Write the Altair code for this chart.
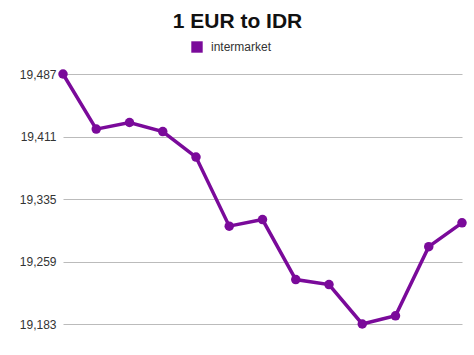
import altair as alt
import pandas as pd

idx = list(range(13))
values = [19487, 19420, 19428, 19417, 19386, 19302, 19310, 19237, 19231, 19183, 19193, 19277, 19306]
series = ["intermarket"] * 13
y_ticks = [19183, 19259, 19335, 19411, 19487]

df = pd.DataFrame({"i": idx, "rate": values, "series": series})

color = alt.Color(
    "series:N",
    scale=alt.Scale(domain=["intermarket"], range=["#7a0a9a"]),
    legend=alt.Legend(
        title=None, orient="none", legendX=128, legendY=-33,
        symbolType="square", symbolSize=130, symbolStrokeWidth=0,
        labelFontSize=12, labelFont="Liberation Sans", labelColor="#333333",
        labelOffset=8, padding=0,
    ),
)

x = alt.X("i:Q", axis=None, scale=alt.Scale(domain=[0, 12], nice=False, zero=False))
y = alt.Y(
    "rate:Q",
    scale=alt.Scale(domain=[19183, 19487], nice=False, zero=False),
    axis=alt.Axis(
        title=None, values=y_ticks, format=",.0f", ticks=False, domain=False,
        labelFontSize=12, labelFont="Liberation Sans", labelColor="#333333",
        labelPadding=7, gridColor="#bbbbbb", gridWidth=1,
    ),
)

line = alt.Chart(df).mark_line(strokeWidth=3.5).encode(x=x, y=y, color=color)
pts = alt.Chart(df).mark_point(filled=True, size=90, opacity=1, shape="circle").encode(x=x, y=y, color=color)

chart = (
    alt.layer(line, pts)
    .properties(
        width=399, height=250,
        autosize=alt.AutoSizeParams(type="none"),
        padding={"left": 63, "top": 74, "right": 12, "bottom": 31},
        title=alt.TitleParams(
            "1 EUR to IDR", font="Liberation Sans", fontSize=21, fontWeight="bold",
            color="#111111", anchor="middle", dx=-25, offset=9,
        ),
    )
    .configure_view(stroke=None)
)

chart.save("out.html", embed_options={"renderer": "svg", "actions": False})
